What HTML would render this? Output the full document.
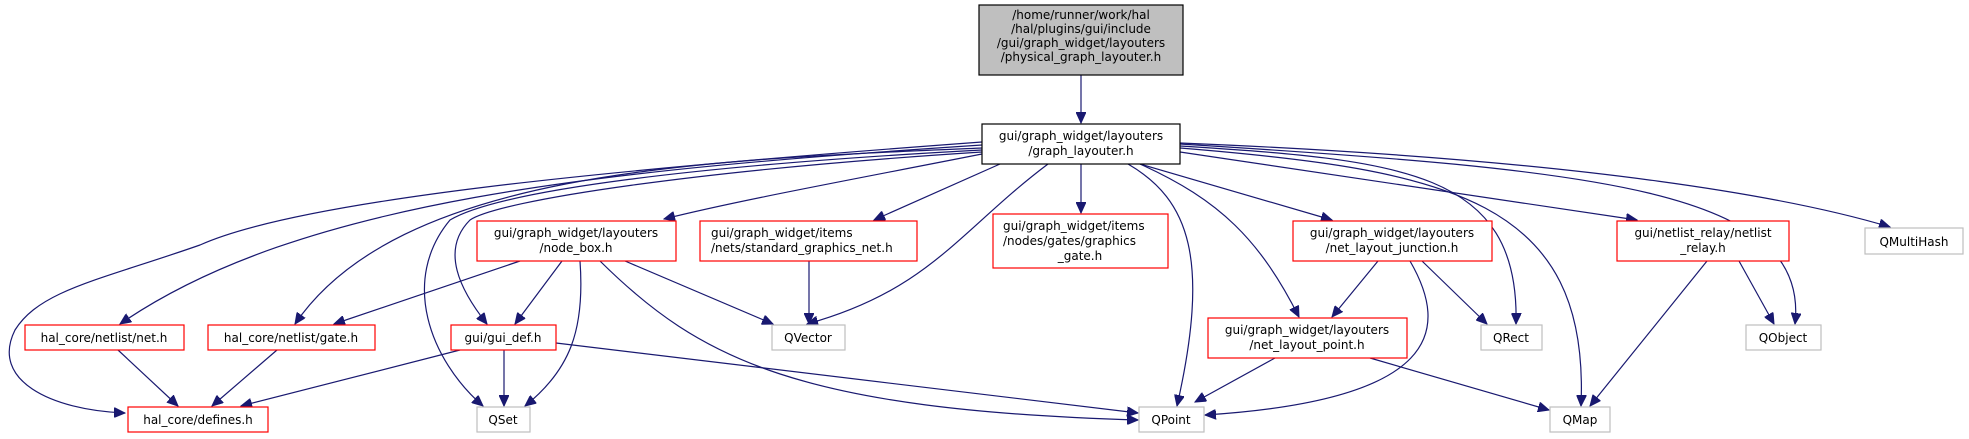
<!DOCTYPE html>
<html><head><meta charset="utf-8"><style>
html,body{margin:0;padding:0;background:#fff}
svg{display:block}
text{font-family:"DejaVu Sans","Liberation Sans",sans-serif;font-size:12px;fill:#000}
.e{fill:none;stroke:#191970;stroke-width:1.2}
.r{fill:#fff;stroke:#ff0000;stroke-width:1.2}
.g{fill:#fff;stroke:#bfbfbf;stroke-width:1.2}
</style></head><body>
<svg width="1969" height="439" viewBox="0 0 1969 439" xmlns="http://www.w3.org/2000/svg">
<defs><marker id="a" markerUnits="userSpaceOnUse" markerWidth="12" markerHeight="10" refX="11" refY="5" orient="auto"><path d="M0,0 L11,5 L0,10 z" fill="#191970" stroke="#191970"/></marker></defs>
<g class="e" marker-end="url(#a)">
<path d="M1081,75 L1081,123"/>
<path d="M982,154 C850,180 740,200 664,219"/>
<path d="M1000,164 L874,220"/>
<path d="M1081,164 L1081,213"/>
<path d="M1048,164 C960,230 930,290 807,324"/>
<path d="M1128,164 C1190,200 1210,260 1177,406"/>
<path d="M1140,164 C1220,200 1260,240 1299,317"/>
<path d="M1140,164 L1332,220"/>
<path d="M1180,146 C1400,160 1520,170 1516,324"/>
<path d="M1180,148 C1450,170 1590,200 1581,406"/>
<path d="M1180,152 L1637,220"/>
<path d="M1180,144 C1600,170 1810,190 1795,324"/>
<path d="M1180,143 C1600,160 1800,200 1890,227"/>
<path d="M982,142 C600,170 300,200 200,245 C100,280 40,290 15,330 C-10,380 50,410 125,413"/>
<path d="M982,145 C600,170 300,200 120,324"/>
<path d="M982,148 C700,160 400,170 295,324"/>
<path d="M982,150 C700,165 500,190 450,220 C400,280 430,360 483,406"/>
<path d="M982,152 C700,170 500,200 470,220 C440,250 460,290 487,324"/>
<path d="M520,261 L334,324"/>
<path d="M562,261 L515,324"/>
<path d="M580,261 C585,330 570,370 525,406"/>
<path d="M600,261 C700,360 800,410 1138,420"/>
<path d="M625,261 L773,324"/>
<path d="M809,261 L809,324"/>
<path d="M460,350 L241,406"/>
<path d="M504,350 L504,406"/>
<path d="M556,343 L1138,413"/>
<path d="M118,350 L178,406"/>
<path d="M277,350 L212,406"/>
<path d="M1378,261 L1332,317"/>
<path d="M1422,261 L1487,324"/>
<path d="M1410,261 C1450,330 1440,400 1205,415"/>
<path d="M1275,358 L1195,402"/>
<path d="M1370,358 L1549,410"/>
<path d="M1707,261 L1590,406"/>
<path d="M1739,261 L1774,324"/>
</g>
<rect x="979" y="5" width="204" height="70" fill="#bfbfbf" stroke="#000" stroke-width="1.2"/>
<text text-anchor="middle"><tspan x="1081" y="19">/home/runner/work/hal</tspan><tspan x="1081" y="33">/hal/plugins/gui/include</tspan><tspan x="1081" y="47">/gui/graph_widget/layouters</tspan><tspan x="1081" y="61">/physical_graph_layouter.h</tspan></text>
<rect x="982" y="124" width="198" height="40" fill="#fff" stroke="#000" stroke-width="1.2"/>
<text text-anchor="middle"><tspan x="1081" y="140">gui/graph_widget/layouters</tspan><tspan x="1081" y="155">/graph_layouter.h</tspan></text>
<rect class="r" x="477" y="221" width="199" height="40"/>
<text text-anchor="middle"><tspan x="576" y="237">gui/graph_widget/layouters</tspan><tspan x="576" y="252">/node_box.h</tspan></text>
<rect class="r" x="700" y="221" width="217" height="40"/>
<text><tspan x="711" y="237">gui/graph_widget/items</tspan><tspan x="711" y="252">/nets/standard_graphics_net.h</tspan></text>
<rect class="r" x="993" y="214" width="175" height="54"/>
<text><tspan x="1003" y="230">gui/graph_widget/items</tspan><tspan x="1003" y="245">/nodes/gates/graphics</tspan><tspan x="1080" y="260" text-anchor="middle">_gate.h</tspan></text>
<rect class="r" x="1293" y="221" width="199" height="40"/>
<text text-anchor="middle"><tspan x="1392" y="237">gui/graph_widget/layouters</tspan><tspan x="1392" y="252">/net_layout_junction.h</tspan></text>
<rect class="r" x="1617" y="221" width="172" height="40"/>
<text text-anchor="middle"><tspan x="1703" y="237">gui/netlist_relay/netlist</tspan><tspan x="1703" y="252">_relay.h</tspan></text>
<rect class="g" x="1865" y="228" width="98" height="26"/>
<text x="1914" y="246" text-anchor="middle">QMultiHash</text>
<rect class="r" x="25" y="325" width="159" height="25"/>
<text x="104" y="342" text-anchor="middle">hal_core/netlist/net.h</text>
<rect class="r" x="208" y="325" width="167" height="25"/>
<text x="291" y="342" text-anchor="middle">hal_core/netlist/gate.h</text>
<rect class="r" x="451" y="325" width="105" height="25"/>
<text x="503" y="342" text-anchor="middle">gui/gui_def.h</text>
<rect class="g" x="772" y="325" width="73" height="25"/>
<text x="808" y="342" text-anchor="middle">QVector</text>
<rect class="r" x="1208" y="318" width="199" height="40"/>
<text text-anchor="middle"><tspan x="1307" y="334">gui/graph_widget/layouters</tspan><tspan x="1307" y="349">/net_layout_point.h</tspan></text>
<rect class="g" x="1481" y="325" width="61" height="25"/>
<text x="1511" y="342" text-anchor="middle">QRect</text>
<rect class="g" x="1746" y="325" width="75" height="25"/>
<text x="1783" y="342" text-anchor="middle">QObject</text>
<rect class="r" x="128" y="407" width="140" height="25"/>
<text x="198" y="424" text-anchor="middle">hal_core/defines.h</text>
<rect class="g" x="477" y="407" width="53" height="25"/>
<text x="503" y="424" text-anchor="middle">QSet</text>
<rect class="g" x="1139" y="407" width="65" height="25"/>
<text x="1171" y="424" text-anchor="middle">QPoint</text>
<rect class="g" x="1550" y="407" width="60" height="25"/>
<text x="1580" y="424" text-anchor="middle">QMap</text>
</svg>
</body></html>
